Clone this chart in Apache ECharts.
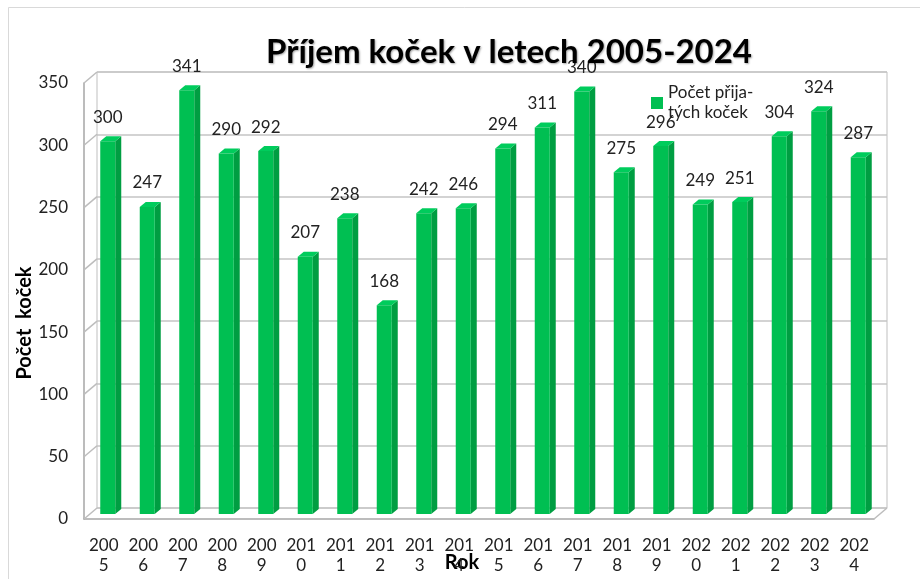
<!DOCTYPE html>
<html>
<head>
<meta charset="utf-8">
<script src="https://cdn.jsdelivr.net/npm/echarts@6/dist/echarts.min.js"></script>
<style>
    html, body { margin: 0; padding: 0; background: #fff; }
    #chart { width: 920px; height: 579px; }
</style>
</head>
<body>
<div id="chart"></div>
<script>
    var years = ['2005', '2006', '2007', '2008', '2009', '2010', '2011', '2012', '2013', '2014',
        '2015', '2016', '2017', '2018', '2019', '2020', '2021', '2022', '2023', '2024'];
    var cats = [300, 247, 341, 290, 292, 207, 238, 168, 242, 246,
        294, 311, 340, 275, 296, 249, 251, 304, 324, 287];
    var yTicks = [0, 50, 100, 150, 200, 250, 300, 350];

    var FONT = 'Lato';
    var DX = 13, DY = -11;   // hloubka 3D
    var chart = echarts.init(document.getElementById('chart'));

    var option = {
        animation: false,
        backgroundColor: '#fff',
        title: {
            text: 'Příjem koček v letech 2005-2024',
            left: 504, top: 31, textAlign: 'center',
            textStyle: { fontFamily: FONT, fontSize: 33, fontWeight: 'bold', color: '#000',
                textShadowColor: 'rgba(0,0,0,0.35)', textShadowBlur: 2, textShadowOffsetX: 1, textShadowOffsetY: 1 }
        },
        legend: {
            left: 646, top: 78,
            itemWidth: 12, itemHeight: 12, itemGap: 5,
            icon: 'rect',
            textStyle: { fontFamily: FONT, fontSize: 17, color: '#222', lineHeight: 20 },
            data: [{ name: 'Počet přija-\ntých koček' }]
        },
        grid: [
            { left: 84, top: 83, width: 790, height: 436, outerBoundsMode: 'none' },
            { left: 97, top: 72, width: 790, height: 436, outerBoundsMode: 'none',
                show: true, borderColor: '#bfbfbf', borderWidth: 1 },
            { left: 88, top: 79, width: 790, height: 435, outerBoundsMode: 'none' }
        ],
        xAxis: [
            {
                gridIndex: 0, type: 'category', data: years,
                name: 'Rok', nameLocation: 'middle', nameGap: 34, nameMoveOverlap: false,
                nameTextStyle: { fontFamily: FONT, fontSize: 20, fontWeight: 'bold', color: '#000',
                    padding: [0, 34, 0, 0] },
                axisLine: { lineStyle: { color: '#a6a6a6', width: 1.5 } },
                axisTick: { show: false },
                axisLabel: {
                    interval: 0, margin: 17, lineHeight: 20,
                    fontFamily: FONT, fontSize: 17, color: '#222',
                    formatter: function (v) { return v.slice(0, 3) + '\n' + v.slice(3); }
                }
            },
            { gridIndex: 1, type: 'category', data: years, show: false },
            { gridIndex: 2, type: 'category', data: years, show: false }
        ],
        yAxis: [
            {
                gridIndex: 0, type: 'value', min: 0, max: 350, interval: 50,
                name: 'Počet  koček', nameLocation: 'middle', nameGap: 49, nameMoveOverlap: false,
                nameTextStyle: { fontFamily: FONT, fontSize: 20, fontWeight: 'bold', color: '#000',
                    padding: [0, 44, 0, 0] },
                axisLine: { show: true, lineStyle: { color: '#a6a6a6', width: 1.5 } },
                axisTick: { show: false },
                splitLine: { show: false },
                axisLabel: { margin: 16, fontFamily: FONT, fontSize: 17, color: '#222' }
            },
            {
                gridIndex: 1, type: 'value', min: 0, max: 350, interval: 50,
                axisLine: { show: false }, axisTick: { show: false }, axisLabel: { show: false },
                splitLine: { show: true, lineStyle: { color: '#c4c4c4', width: 1.5 } }
            },
            { gridIndex: 2, type: 'value', min: 0, max: 350, show: false, splitLine: { show: false } }
        ],
        series: [
            {
                // levá stěna a podlaha
                type: 'custom', xAxisIndex: 0, yAxisIndex: 0, silent: true,
                data: yTicks.map(function (t) { return [0, t]; }),
                encode: { x: 0, y: 1 },
                renderItem: function (params, api) {
                    var p = api.coord([0, api.value(1)]);
                    var x0 = params.coordSys.x;
                    var kids = [{
                        type: 'line',
                        shape: { x1: x0, y1: p[1], x2: x0 + DX, y2: p[1] + DY },
                        style: { stroke: '#bdbdbd', lineWidth: 1.5 }
                    }];
                    if (params.dataIndex === 0) {
                        var xr = x0 + params.coordSys.width;
                        kids.push({
                            type: 'line',
                            shape: { x1: xr, y1: p[1], x2: xr + DX, y2: p[1] + DY },
                            style: { stroke: '#bdbdbd', lineWidth: 1.5 }
                        });
                    }
                    return { type: 'group', children: kids };
                },
                z: 1
            },
            {
                name: 'Počet přija-\ntých koček',
                type: 'custom', xAxisIndex: 2, yAxisIndex: 2,
                itemStyle: { color: '#00bf52' },
                data: cats.map(function (v, i) { return [i, v]; }),
                encode: { x: 0, y: 1 },
                renderItem: function (params, api) {
                    var idx = params.dataIndex;
                    var v = api.value(1);
                    var top = api.coord([idx, v]);
                    var base = api.coord([idx, 0]);
                    var w = 15, d = 6, h = -5;
                    var x1 = top[0] - w / 2, x2 = top[0] + w / 2;
                    return {
                        type: 'group',
                        children: [
                            {
                                type: 'polygon',
                                shape: { points: [[x2, top[1]], [x2 + d, top[1] + h], [x2 + d, base[1] + h], [x2, base[1]]] },
                                style: { fill: '#009e42' }
                            },
                            {
                                type: 'polygon',
                                shape: { points: [[x1, top[1]], [x1 + d, top[1] + h], [x2 + d, top[1] + h], [x2, top[1]]] },
                                style: { fill: '#00cc5c' }
                            },
                            {
                                type: 'rect',
                                shape: { x: x1, y: top[1], width: w, height: base[1] - top[1] },
                                style: { fill: '#00bf52' }
                            },
                            {
                                type: 'text',
                                style: {
                                    text: String(v), x: top[0], y: top[1] - 24,
                                    align: 'center', verticalAlign: 'middle',
                                    fontFamily: FONT, fontSize: 17, fill: '#222'
                                }
                            }
                        ]
                    };
                },
                z: 3
            }
        ]
    };

    option && chart.setOption(option);

    // okraj celého grafu
    chart.setOption({
        graphic: [{
            type: 'rect', silent: true, z: -1,
            shape: { x: 8.5, y: 7.5, width: 930, height: 600 },
            style: { fill: 'none', stroke: '#d9d9d9', lineWidth: 1 }
        }]
    });
</script>
</body>
</html>
